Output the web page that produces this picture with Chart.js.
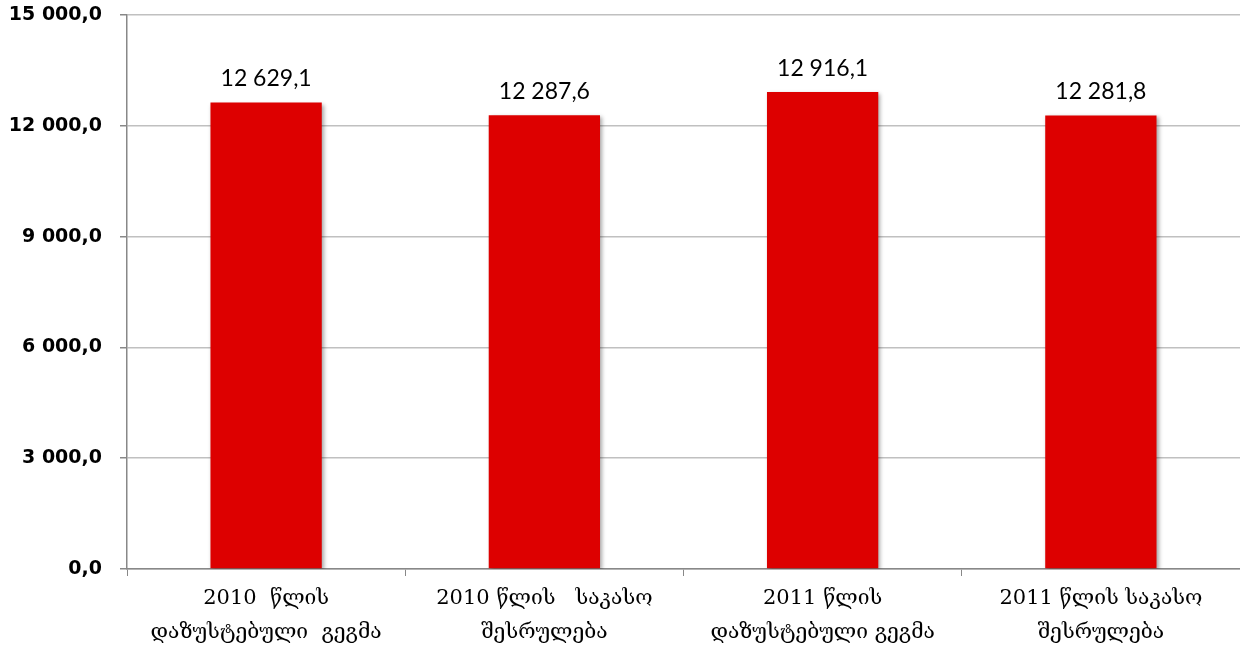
<!DOCTYPE html>
<html>
<head>
<meta charset="utf-8">
<script src="https://cdn.jsdelivr.net/npm/chart.js@4"></script>
<style>
  html, body { margin: 0; padding: 0; background: #fff; }
  #wrap { width: 1240px; height: 649px; }
</style>
</head>
<body>
<div id="wrap"><canvas id="chartCanvas" width="1240" height="649"></canvas></div>
<script>
const categories = [
  ['2010  წლის', 'დაზუსტებული  გეგმა'],
  ['2010 წლის   საკასო', 'შესრულება'],
  ['2011 წლის', 'დაზუსტებული გეგმა'],
  ['2011 წლის საკასო', 'შესრულება'],
];
const values = [12629.1, 12287.6, 12916.1, 12281.8];
const yTicks = [0, 3000, 6000, 9000, 12000, 15000];

function formatNumber(v) {
  const parts = v.toFixed(1).split('.');
  const intPart = parts[0].replace(/\B(?=(\d{3})+(?!\d))/g, ' ');
  return intPart + ',' + parts[1];
}

// labels above the bars + a light shadow under them
const barLabels = {
  id: 'barLabels',
  beforeDatasetsDraw(chart) {
    const ctx = chart.ctx;
    ctx.save();
    ctx.shadowColor = 'rgba(0, 0, 0, 0.35)';
    ctx.shadowBlur = 4;
    ctx.shadowOffsetX = 2;
    ctx.shadowOffsetY = 2;
  },
  afterDatasetsDraw(chart) {
    const ctx = chart.ctx;
    ctx.restore();
    ctx.save();
    ctx.font = '23px Lato, "Open Sans", sans-serif';
    ctx.fillStyle = '#000';
    ctx.textAlign = 'center';
    ctx.textBaseline = 'bottom';
    chart.getDatasetMeta(0).data.forEach((bar, i) => {
      ctx.fillText(formatNumber(values[i]), bar.x, bar.y - 12);
    });
    ctx.restore();
  },
};

const ctx = document.getElementById('chartCanvas').getContext('2d');
const chart = new Chart(ctx, {
  type: 'bar',
  data: {
    labels: categories,
    datasets: [
      {
        data: values,
        backgroundColor: '#DD0000',
        borderWidth: 0,
        barPercentage: 0.4,
        categoryPercentage: 1,
      },
    ],
  },
  options: {
    responsive: false,
    animation: false,
    layout: { padding: { top: 15, right: 0, bottom: 0, left: 0 } },
    plugins: {
      legend: { display: false },
      tooltip: { enabled: false },
    },
    scales: {
      x: {
        offset: true,
        grid: {
          offset: true,
          drawOnChartArea: false,
          drawTicks: true,
          tickLength: 7,
          color: '#888',
        },
        border: { color: '#888', width: 1.5 },
        ticks: {
          maxRotation: 0,
          autoSkip: false,
          padding: 6,
          color: '#000',
          font: { family: '"DejaVu Serif", serif', size: 21, lineHeight: 1.6 },
        },
        afterFit(scale) {
          scale.height = 80;
        },
      },
      y: {
        min: 0,
        max: 15000,
        afterBuildTicks(scale) {
          scale.ticks = yTicks.map((v) => ({ value: v }));
        },
        grid: {
          color: '#C0C0C0',
          lineWidth: 1.5,
          tickLength: 7,
          tickColor: '#888',
        },
        border: { color: '#888', width: 1.5 },
        ticks: {
          padding: 18,
          color: '#000',
          font: { family: '"DejaVu Sans", sans-serif', size: 19, weight: 'bold' },
          callback: (v) => formatNumber(v),
        },
        afterFit(scale) {
          scale.width = 127;
          scale.paddingTop = 0;
          scale.paddingBottom = 0;
        },
      },
    },
  },
  plugins: [barLabels],
});
</script>
</body>
</html>
